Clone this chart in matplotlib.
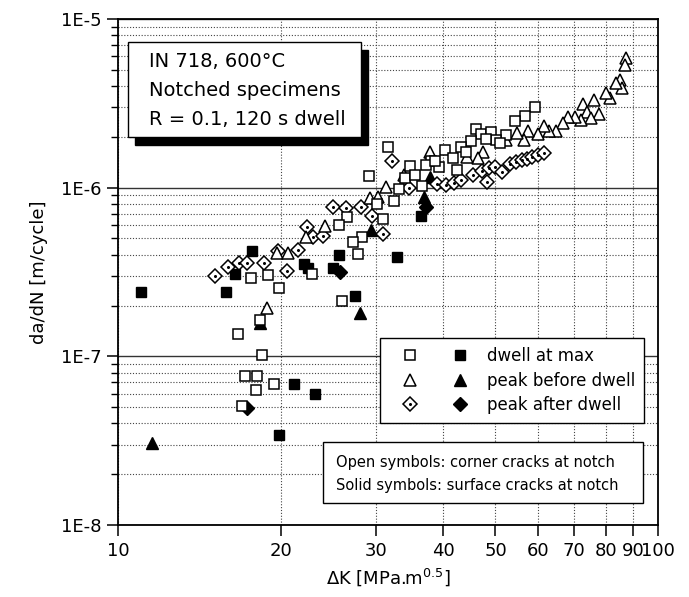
import matplotlib
matplotlib.use("Agg")
import matplotlib.pyplot as plt
from matplotlib.patches import Rectangle
from matplotlib.legend_handler import HandlerTuple
from matplotlib.ticker import LogLocator, NullLocator, NullFormatter, FixedLocator

plt.rcParams['font.family'] = ['DejaVu Sans']
plt.rcParams['mathtext.fontset'] = 'dejavusans'

# ---- data: dK [MPa m^0.5], da/dN [m/cycle] ----
# dwell at max, open = corner cracks
dk_sq_open = [29.11, 31.69, 34.80, 34.07, 35.55, 36.63, 32.51, 30.11, 26.50, 25.62,
              30.89, 28.25, 27.19, 27.77, 40.39, 38.06, 39.37, 41.80, 42.52, 33.21,
              37.26, 38.71, 17.61, 18.94, 19.85, 22.84, 25.94, 18.30, 16.67, 18.46,
              17.17, 18.07, 19.43, 17.99, 16.95, 59.26, 56.78, 54.42, 46.09, 47.08,
              49.13, 52.36, 50.18, 48.10, 51.05, 45.13, 43.25, 44.18]
dadn_sq_open = [1.17e-6, 1.74e-6, 1.34e-6, 1.14e-6, 1.19e-6, 1.02e-6, 8.34e-7, 8.00e-7, 6.71e-7, 6.01e-7,
                6.53e-7, 5.10e-7, 4.77e-7, 4.05e-7, 1.67e-6, 1.44e-6, 1.33e-6, 1.50e-6, 1.27e-6, 9.82e-7,
                1.36e-6, 1.44e-6, 2.91e-7, 3.04e-7, 2.54e-7, 3.08e-7, 2.13e-7, 1.64e-7, 1.36e-7, 1.02e-7,
                7.65e-8, 7.65e-8, 6.86e-8, 6.32e-8, 5.08e-8, 3.01e-6, 2.66e-6, 2.49e-6, 2.23e-6, 2.08e-6,
                2.14e-6, 2.05e-6, 1.92e-6, 1.94e-6, 1.84e-6, 1.89e-6, 1.74e-6, 1.63e-6]
# dwell at max, solid = surface cracks
dk_sq_fill = [11.03, 17.69, 16.46, 15.84, 22.07, 22.45, 24.97, 25.62, 27.42, 32.93,
              36.47, 21.15, 23.13, 19.85]
dadn_sq_fill = [2.41e-7, 4.21e-7, 3.08e-7, 2.41e-7, 3.53e-7, 3.34e-7, 3.34e-7, 3.99e-7, 2.28e-7, 3.88e-7,
                6.80e-7, 6.86e-8, 5.98e-8, 3.42e-8]
# peak before dwell
dk_tri_open = [87.29, 86.93, 85.10, 85.82, 83.66, 81.53, 80.15, 76.17, 72.69, 73.94,
               77.79, 75.17, 72.07, 70.25, 68.19, 66.77, 64.80, 62.90, 61.58, 60.02,
               57.52, 56.55, 54.89, 52.36, 47.49, 46.49, 44.36, 37.90, 33.92, 31.42,
               29.23, 30.24, 24.14, 22.26, 19.68, 20.62, 18.86]
dadn_tri_open = [5.87e-6, 5.34e-6, 4.35e-6, 3.90e-6, 4.17e-6, 3.40e-6, 3.64e-6, 3.31e-6, 3.13e-6, 2.81e-6,
                 2.73e-6, 2.59e-6, 2.52e-6, 2.62e-6, 2.62e-6, 2.42e-6, 2.17e-6, 2.17e-6, 2.32e-6, 2.08e-6,
                 2.17e-6, 1.92e-6, 2.11e-6, 1.92e-6, 1.63e-6, 1.50e-6, 1.52e-6, 1.63e-6, 1.19e-6, 1.01e-6,
                 8.69e-7, 8.81e-7, 5.93e-7, 5.10e-7, 4.10e-7, 4.10e-7, 1.94e-7]
dk_tri_fill = [11.56, 18.30, 28.01, 29.36, 37.90, 36.94]
dadn_tri_fill = [3.07e-8, 1.58e-7, 1.81e-7, 5.61e-7, 1.16e-6, 8.81e-7]
# peak after dwell
dk_dia_open = [15.11, 15.97, 16.74, 17.31, 18.62, 19.76, 21.51, 20.53, 22.36, 22.93,
               23.93, 24.97, 26.39, 28.13, 29.48, 31.02, 32.23, 34.65, 39.04, 40.57,
               41.98, 43.25, 45.50, 47.29, 48.72, 49.97, 51.49, 48.31, 53.27, 54.65,
               56.07, 57.27, 58.50, 60.02, 61.58]
dadn_dia_open = [3.00e-7, 3.39e-7, 3.58e-7, 3.58e-7, 3.58e-7, 4.21e-7, 4.27e-7, 3.21e-7, 5.85e-7, 5.10e-7,
                 5.17e-7, 7.68e-7, 7.58e-7, 7.68e-7, 6.80e-7, 5.31e-7, 1.44e-6, 9.96e-7, 1.05e-6, 1.04e-6,
                 1.07e-6, 1.11e-6, 1.19e-6, 1.26e-6, 1.31e-6, 1.33e-6, 1.24e-6, 1.08e-6, 1.38e-6, 1.42e-6,
                 1.46e-6, 1.48e-6, 1.52e-6, 1.56e-6, 1.61e-6]
dk_dia_fill = [25.73, 37.26, 17.31]
dadn_dia_fill = [3.16e-7, 7.68e-7, 4.94e-8]

x_ticks = [10, 20, 30, 40, 50, 60, 70, 80, 90, 100]
y_ticks = [1e-8, 1e-7, 1e-6, 1e-5]
y_labels = ['1E-8', '1E-7', '1E-6', '1E-5']
series_names = ['dwell at max', 'peak before dwell', 'peak after dwell']
info_lines = ['IN 718, 600°C', 'Notched specimens', 'R = 0.1, 120 s dwell']
note_lines = ['Open symbols: corner cracks at notch', 'Solid symbols: surface cracks at notch']

fig = plt.figure(figsize=(6.89, 5.97), dpi=100)
ax = fig.add_axes([118 / 689, 72 / 597, 540 / 689, 506 / 597])

mk_open = dict(ls='none', mfc='white', mec='black', mew=1.1)
mk_fill = dict(ls='none', mfc='black', mec='black', mew=1.0)

sq_f, = ax.plot(dk_sq_fill, dadn_sq_fill, marker='s', ms=6.8, **mk_fill)
tr_f, = ax.plot(dk_tri_fill, dadn_tri_fill, marker='^', ms=8.5, **mk_fill)
di_f, = ax.plot(dk_dia_fill, dadn_dia_fill, marker='D', ms=7.2, **mk_fill)
di_o, = ax.plot(dk_dia_open, dadn_dia_open, marker='D', ms=7.2, **mk_open)
di_dot, = ax.plot(dk_dia_open, dadn_dia_open, ls='none', marker='o', ms=1.2, color='black')
tr_o, = ax.plot(dk_tri_open, dadn_tri_open, marker='^', ms=8.5, **mk_open)
sq_o, = ax.plot(dk_sq_open, dadn_sq_open, marker='s', ms=6.8, **mk_open)

ax.set_xscale('log')
ax.set_yscale('log')
ax.set_xlim(10, 100)
ax.set_ylim(1e-8, 1e-5)

ax.xaxis.set_major_locator(FixedLocator(x_ticks))
ax.xaxis.set_minor_locator(NullLocator())
ax.set_xticklabels([str(t) for t in x_ticks])
ax.yaxis.set_major_locator(FixedLocator(y_ticks))
ax.set_yticklabels(y_labels)
ax.yaxis.set_minor_locator(LogLocator(base=10, subs=range(2, 10)))
ax.yaxis.set_minor_formatter(NullFormatter())

ax.tick_params(axis='both', which='major', direction='out', length=8, width=1.1,
               labelsize=13, pad=4)
ax.tick_params(axis='y', which='minor', direction='out', length=5, width=1.0)

ax.set_axisbelow(True)
ax.grid(axis='y', which='minor', color='#444444', ls=(0, (1, 1.6)), lw=0.8)
ax.grid(axis='y', which='major', color='#333333', ls='-', lw=1.0)
ax.grid(axis='x', which='major', color='#444444', ls=(0, (1, 1.6)), lw=0.8)

for s in ax.spines.values():
    s.set_linewidth(1.3)

ax.set_xlabel('ΔK [MPa.m$^{0.5}$]', fontsize=13, labelpad=5)
ax.set_ylabel('da/dN [m/cycle]', fontsize=13, labelpad=9)

# info box with drop shadow
ax.add_patch(Rectangle((0.0315, 0.751), 0.4315, 0.1877, transform=ax.transAxes,
                       facecolor='black', edgecolor='black', zorder=5))
ax.add_patch(Rectangle((0.0185, 0.7668), 0.4315, 0.1877, transform=ax.transAxes,
                       facecolor='white', edgecolor='black', lw=1.0, zorder=6))
for i, line in enumerate(info_lines):
    ax.text(0.0574, 0.905 - i * 0.0573, line, transform=ax.transAxes, fontsize=14,
            va='baseline', ha='left', zorder=7)

# note box
ax.add_patch(Rectangle((0.3796, 0.0435), 0.5924, 0.1205, transform=ax.transAxes,
                       facecolor='white', edgecolor='black', lw=1.0, zorder=6))
for i, line in enumerate(note_lines):
    ax.text(0.4037, 0.1146 - i * 0.0454, line, transform=ax.transAxes, fontsize=10.5,
            va='baseline', ha='left', zorder=7)

h1 = (sq_o, sq_f)
h2 = (tr_o, tr_f)
h3 = ((di_o, di_dot), di_f)
pair = HandlerTuple(ndivide=None, pad=10 / 12 / 1.389)
leg = ax.legend([h1, h2, h3], series_names, loc='upper right',
                bbox_to_anchor=(0.974, 0.37), borderaxespad=0, fontsize=12,
                handler_map={h1: pair, h2: pair, h3: pair},
                handlelength=5.4, handletextpad=0.42, labelspacing=0.4,
                borderpad=0.55, numpoints=1, fancybox=False, framealpha=1,
                edgecolor='black')
leg.get_frame().set_linewidth(1.0)
leg.set_zorder(8)

fig.savefig('out.png', dpi=100)
